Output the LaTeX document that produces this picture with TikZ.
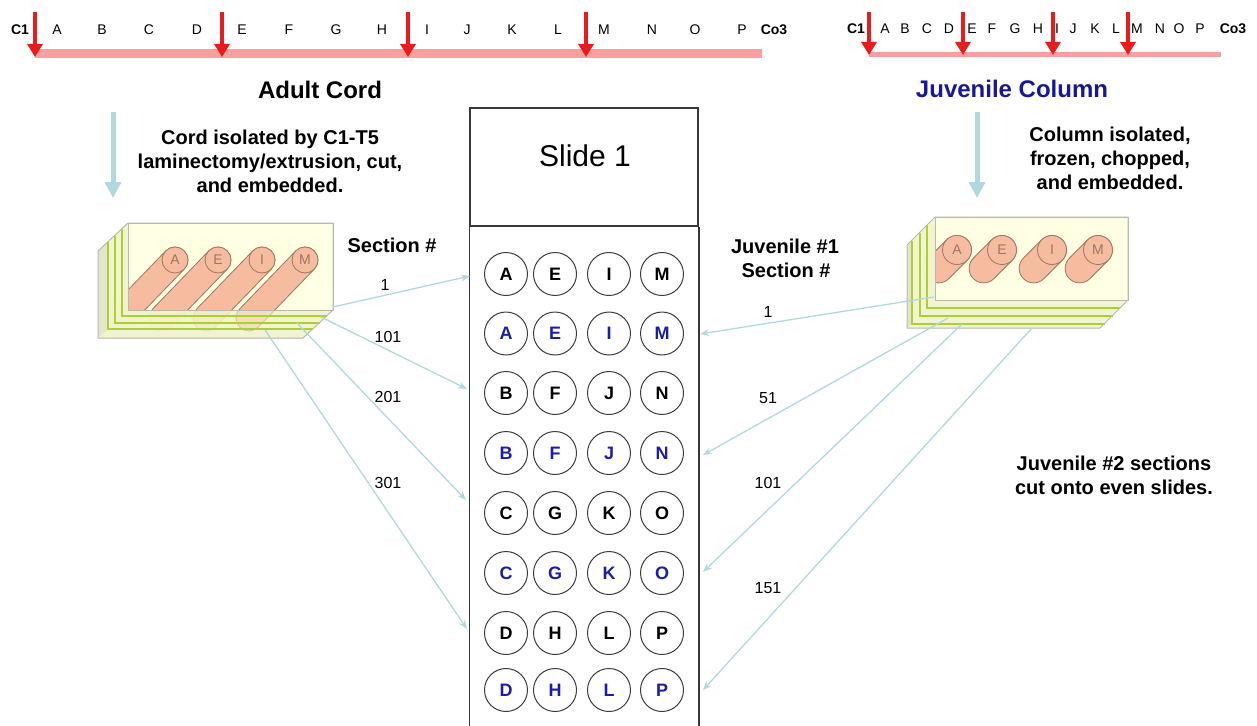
\documentclass[tikz,border=0pt]{standalone}
\usepackage{fontspec}
\setmainfont{Liberation Sans}
\usetikzlibrary{arrows.meta,calc}

\definecolor{barpink}{RGB}{246,160,160}
\definecolor{cutred}{RGB}{232,28,28}
\definecolor{paleblue}{RGB}{176,216,222}
\definecolor{juvblue}{RGB}{24,24,150}
\definecolor{slotblue}{RGB}{28,28,172}
\definecolor{slotrim}{RGB}{60,60,60}
\definecolor{slideedge}{RGB}{55,55,55}
\definecolor{waxface}{RGB}{255,255,228}
\definecolor{waxside}{RGB}{242,244,208}
\definecolor{waxback}{RGB}{218,222,200}
\definecolor{waxedge}{RGB}{185,185,176}
\definecolor{slabgreen}{RGB}{172,208,52}
\definecolor{tissue}{RGB}{246,188,160}
\definecolor{tissueedge}{RGB}{160,118,96}

% tissue cylinder: #1 top centre, #2 axis angle, #3 length, #4 radius, #5 label
\newcommand\tissuecyl[5]{%
  \path[fill=tissue,draw=tissueedge,line width=0.8pt] (#1) ++(#2-90:#4) -- ++(#2:#3)
    arc[start angle=#2-90,end angle=#2+90,radius=#4] -- ++(#2+180:#3)
    arc[start angle=#2+90,end angle=#2+270,radius=#4] -- cycle;
  \draw[tissueedge,line width=0.8pt,fill=tissue] (#1) circle[radius=#4];
  \node[inner sep=0pt,text=tissueedge,font=\fontsize{14}{16}\selectfont] at (#1) {#5};
}

\begin{document}
\begin{tikzpicture}[x=1pt,y=-1pt,
  rulerlbl/.style={anchor=base,inner sep=0pt,font=\fontsize{14}{16}\selectfont},
  rulerlblb/.style={anchor=base,inner sep=0pt,font=\bfseries\fontsize{14}{16}\selectfont},
  cutmark/.style={draw=cutred,line width=4pt,-{Triangle[width=15pt,length=13pt]}},
  feedarrow/.style={draw=paleblue,line width=5pt,-{Triangle[width=16pt,length=16pt]}},
  hdr/.style={anchor=base,inner sep=0pt,font=\bfseries\fontsize{24}{28}\selectfont},
  noteline/.style={anchor=base,inner sep=0pt,font=\bfseries\fontsize{20}{24}\selectfont},
  numlbl/.style={anchor=base,inner sep=0pt,font=\fontsize{16}{18}\selectfont},
  slotc/.style={circle,draw=slotrim,line width=1pt,minimum size=43pt,inner sep=0pt,
    font=\bfseries\fontsize{18}{20}\selectfont},
  flowline/.style={draw=paleblue,line width=1.3pt,-{Stealth[length=9pt,width=7pt]}},
  slab/.style={draw=slabgreen,line width=1.4pt},
  waxline/.style={draw=waxedge,line width=1pt}
]
\useasboundingbox (0,0) rectangle (1257,725);

% ---------- adult cord ruler ----------
\coordinate (abar-w) at (35,54);
\coordinate (abar-e) at (762,54);
\draw[barpink,line width=9pt] (abar-w) -- (abar-e);
\node[rulerlblb] (a-C1) at (20,35) {C1};
\node[rulerlblb] (a-Co3) at (774,35) {Co3};
\foreach \t/\x in {A/57,B/102,C/149,D/197,E/242,F/289,G/336,H/382,
                   I/427,J/467,K/512,L/558,M/604,N/652,O/695,P/742}
  \node[rulerlbl] (a-\t) at (\x,35) {\t};
\foreach \i/\x in {1/35,2/222,3/408,4/586}{
  \coordinate (acut-s\i) at (\x,12);
  \coordinate (acut-e\i) at (\x,57);
  \draw[cutmark] (acut-s\i) -- (acut-e\i);
}

% ---------- juvenile column ruler ----------
\coordinate (jbar-w) at (869,54.5);
\coordinate (jbar-e) at (1221,54.5);
\draw[barpink,line width=5pt] (jbar-w) -- (jbar-e);
\node[rulerlblb] (j-C1) at (856,34) {C1};
\node[rulerlblb] (j-Co3) at (1233,34) {Co3};
\foreach \t/\x in {A/885,B/905,C/927,D/949,E/972,F/992,G/1015,H/1038,
                   I/1057,J/1073,K/1095,L/1116,M/1137,N/1160,O/1179,P/1200}
  \node[rulerlbl] (j-\t) at (\x,34) {\t};
\foreach \i/\x in {1/869,2/963,3/1053,4/1128}{
  \coordinate (jcut-s\i) at (\x,12);
  \coordinate (jcut-e\i) at (\x,55);
  \draw[cutmark] (jcut-s\i) -- (jcut-e\i);
}

% ---------- headings and notes ----------
\node[hdr] (adulthdr) at (320,98) {Adult Cord};
\node[hdr,text=juvblue] (juvhdr) at (1012,97) {Juvenile Column};

\coordinate (afeed-s) at (113,112);
\coordinate (afeed-e) at (113,198);
\draw[feedarrow] (afeed-s) -- (afeed-e);
\coordinate (jfeed-s) at (977,112);
\coordinate (jfeed-e) at (977,198);
\draw[feedarrow] (jfeed-s) -- (jfeed-e);

\node[noteline] (anote1) at (270,144) {Cord isolated by C1-T5};
\node[noteline] (anote2) at (270,168) {laminectomy/extrusion, cut,};
\node[noteline] (anote3) at (270,192) {and embedded.};
\node[noteline] (jnote1) at (1110,141) {Column isolated,};
\node[noteline] (jnote2) at (1110,165) {frozen, chopped,};
\node[noteline] (jnote3) at (1110,189) {and embedded.};

\node[noteline] (asec) at (392,252) {Section \#};
\node[noteline] (jsec1) at (785,253) {Juvenile \#1};
\node[noteline] (jsec2) at (786,277) {Section \#};
\node[noteline] (evenA) at (1114,470) {Juvenile \#2 sections};
\node[noteline] (evenB) at (1114,494) {cut onto even slides.};

% ---------- adult block ----------
\fill[waxside] (128,223) -- (333,223) -- (333,310) -- (303,338) -- (98,338) -- (98,251) -- cycle;
\fill[waxface] (128,223) rectangle (333,310);
\foreach \p/\t in {175/A,218/E,262/I,305/M}
  \tissuecyl{\p,260}{134}{80.6}{13}{\t}
\fill[waxside,fill opacity=0.62] (128,223) -- (98,251) -- (98,338) -- (303,338) -- (333,310) -- (128,310) -- cycle;
\fill[waxback,fill opacity=0.6] (98,251) -- (108,242) -- (108,329) -- (98,338) -- cycle;
\foreach \dx/\dy in {-6/6,-13/13,-20/19}
  \draw[slab] (128+\dx,223+\dy) -- (128+\dx,310+\dy) -- (333+\dx,310+\dy);
\draw[waxline] (128,223) -- (333,223) -- (333,310) -- (303,338) -- (98,338) -- (98,251) -- cycle;
\draw[waxline] (128,223) rectangle (333,310);

% ---------- juvenile block ----------
\fill[waxside] (935,217) -- (1128,217) -- (1128,300) -- (1100,328) -- (907,328) -- (907,245) -- cycle;
\fill[waxface] (935,217) rectangle (1128,300);
\foreach \p/\t in {957/A,1002/E,1052/I,1098/M}
  \tissuecyl{\p,250}{135}{26}{14.5}{\t}
\fill[waxside,fill opacity=0.62] (935,217) -- (907,245) -- (907,328) -- (1100,328) -- (1128,300) -- (935,300) -- cycle;
\fill[waxback,fill opacity=0.6] (907,245) -- (912,240) -- (912,323) -- (907,328) -- cycle;
\foreach \dx/\dy in {-8/8,-15/16,-23/24}
  \draw[slab] (935+\dx,217+\dy) -- (935+\dx,300+\dy) -- (1128+\dx,300+\dy);
\draw[waxline] (935,217) -- (1128,217) -- (1128,300) -- (1100,328) -- (907,328) -- (907,245) -- cycle;
\draw[waxline] (935,217) rectangle (1128,300);

% ---------- slide ----------
\node[draw=slideedge,line width=1.5pt,minimum width=228pt,minimum height=118pt,inner sep=0pt]
  (slidehead) at (584,167) {};
\node[anchor=base,inner sep=0pt,font=\fontsize{30}{34}\selectfont] (slidetitle) at (585,166) {Slide 1};
\coordinate (slidefoot) at (0,727);
\draw[slideedge,line width=1.5pt] (slidehead.south west) -- (slidehead.south west |- slidefoot);
\draw[slideedge,line width=1.5pt] (slidehead.south east) -- (slidehead.south east |- slidefoot);

\foreach \r/\y/\a/\b/\c/\d/\col in {
    1/274/A/E/I/M/black, 2/333.5/A/E/I/M/slotblue,
    3/393/B/F/J/N/black, 4/453/B/F/J/N/slotblue,
    5/513/C/G/K/O/black, 6/573/C/G/K/O/slotblue,
    7/633/D/H/L/P/black, 8/690/D/H/L/P/slotblue}{
  \node[slotc,text=\col] (slot-\r-1) at (506,\y) {\a};
  \node[slotc,text=\col] (slot-\r-2) at (555,\y) {\b};
  \node[slotc,text=\col] (slot-\r-3) at (609,\y) {\c};
  \node[slotc,text=\col] (slot-\r-4) at (662,\y) {\d};
}

% ---------- adult sections to odd rows ----------
\coordinate (aout1) at (333,307);   \coordinate (ain1) at (470,276);
\coordinate (aout2) at (321,317);   \coordinate (ain2) at (467,389);
\coordinate (aout3) at (297,323);   \coordinate (ain3) at (466,500);
\coordinate (aout4) at (265,330);   \coordinate (ain4) at (467,629);
\foreach \i in {1,...,4} \draw[flowline] (aout\i) -- (ain\i);
\node[numlbl] (an1) at (385,290) {1};
\node[numlbl] (an2) at (388,342) {101};
\node[numlbl] (an3) at (388,402) {201};
\node[numlbl] (an4) at (388,488) {301};

% ---------- juvenile #1 sections to even rows ----------
\coordinate (jout1) at (934,297);   \coordinate (jin1) at (700,334);
\coordinate (jout2) at (948,318);   \coordinate (jin2) at (703,455);
\coordinate (jout3) at (962,324);   \coordinate (jin3) at (703,572);
\coordinate (jout4) at (1032,328);  \coordinate (jin4) at (703,690);
\foreach \i in {1,...,4} \draw[flowline] (jout\i) -- (jin\i);
\node[numlbl] (jn1) at (768,317) {1};
\node[numlbl] (jn2) at (768,403) {51};
\node[numlbl] (jn3) at (768,488) {101};
\node[numlbl] (jn4) at (768,593) {151};

\end{tikzpicture}
\end{document}
